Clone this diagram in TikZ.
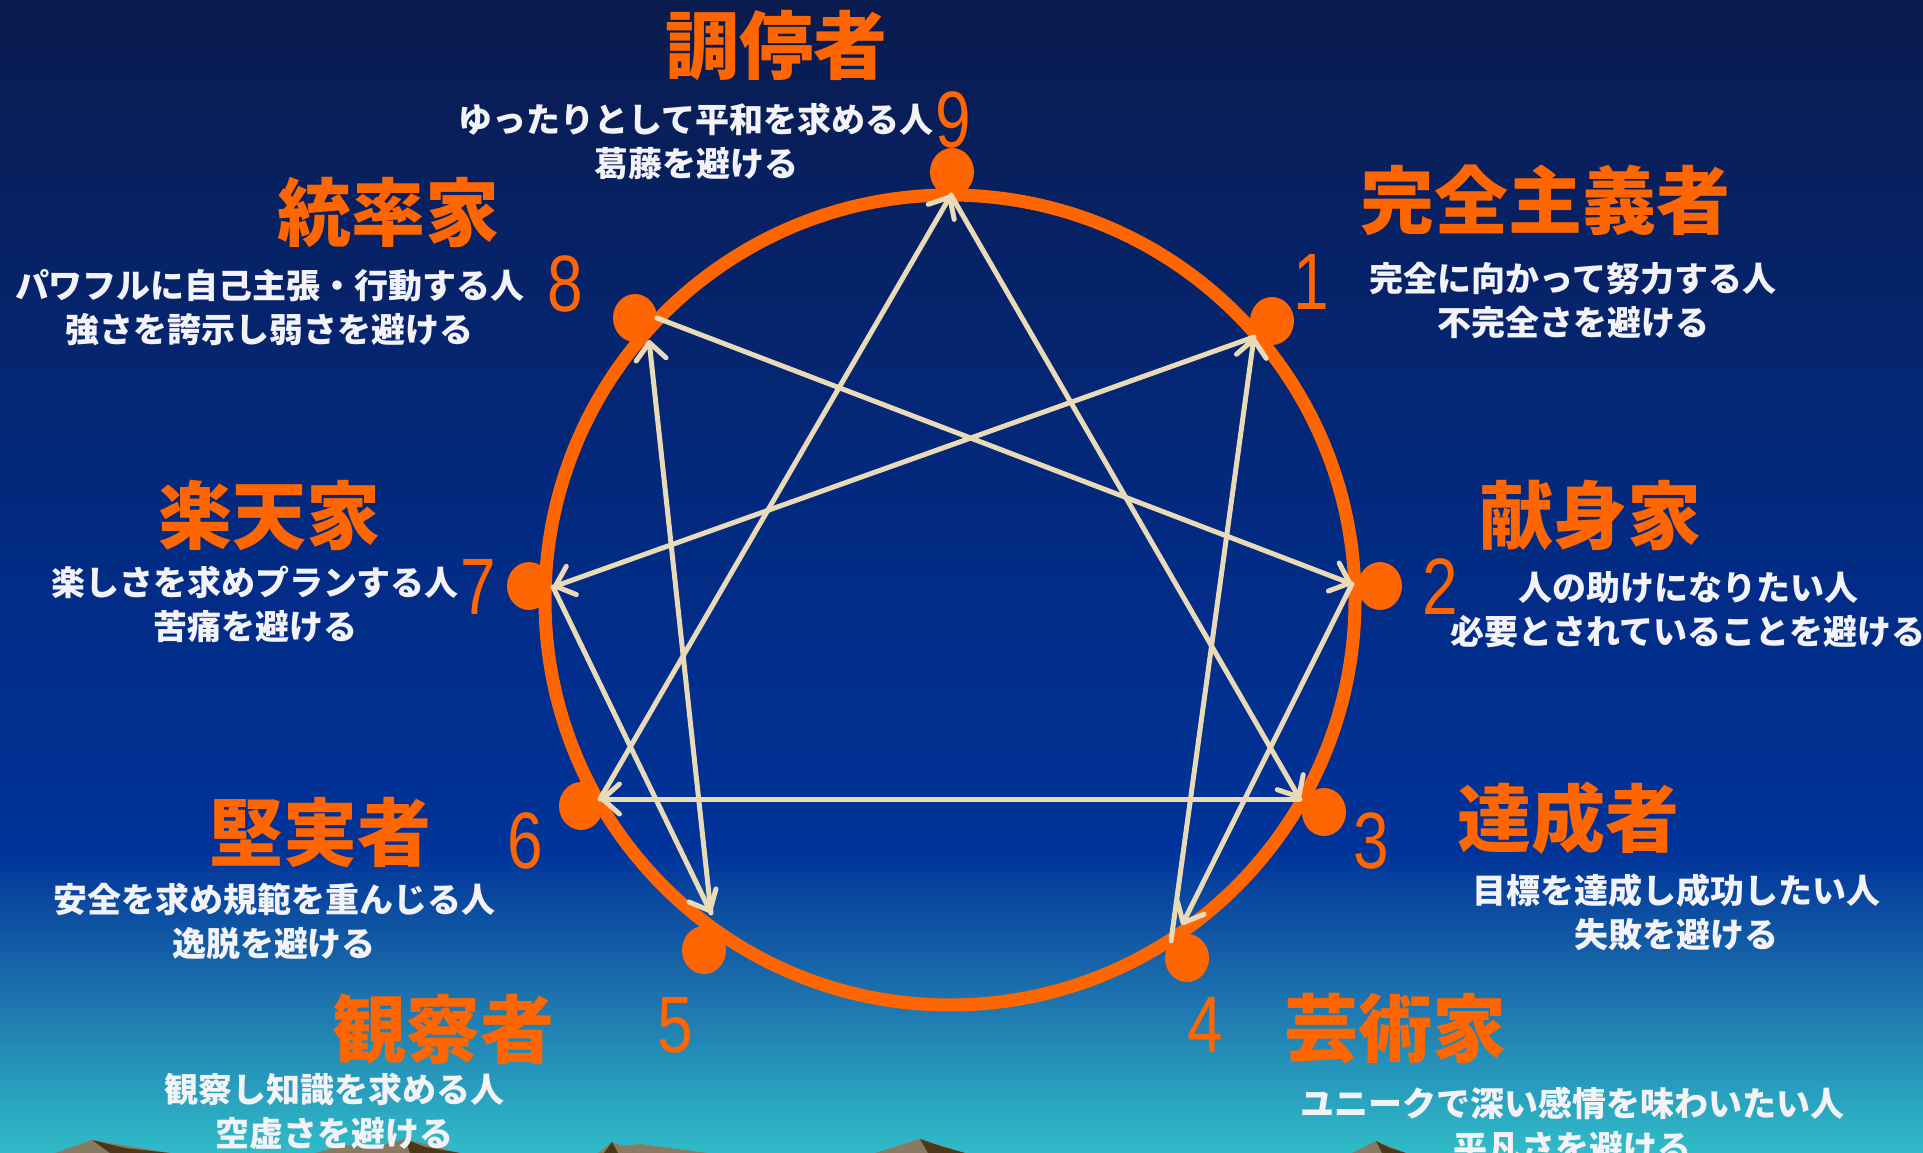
\documentclass[tikz,border=0pt]{standalone}
\usepackage{fontspec}
\setmainfont{Liberation Sans}
\newfontfamily\jp{Noto Sans CJK JP}
\newfontfamily\numf{Liberation Sans}
\usetikzlibrary{arrows.meta,shapes.geometric}
\definecolor{orng}{HTML}{FF6600}
\definecolor{cream}{HTML}{EADBB8}
\definecolor{wht}{HTML}{F2F2F7}
\definecolor{bgA}{HTML}{0A1B4E}
\definecolor{bgB}{HTML}{022B84}
\definecolor{bgC}{HTML}{003399}
\definecolor{bgD}{HTML}{1E74AE}
\definecolor{bgE}{HTML}{30BCC8}
\definecolor{mtnL}{HTML}{8A7A62}
\definecolor{mtnD}{HTML}{4A3818}
\tikzset{
  ttl/.style={font=\jp\bfseries\fontsize{74}{80}\selectfont, text=orng, inner sep=0pt},
  dsc/.style={font=\jp\bfseries\fontsize{34}{44}\selectfont, text=wht, inner sep=0pt, align=center},
  numb/.style={font=\numf\fontsize{80}{80}\selectfont, text=orng, inner sep=0pt, xscale=0.8},
  blob/.style={ellipse, fill=orng, minimum width=44pt, minimum height=48pt, inner sep=0pt},
  link/.style={draw=cream, line width=5pt, line cap=round, -{Straight Barb[length=17pt,width=30pt,round]}},
}
\begin{document}
\begin{tikzpicture}[x=1pt,y=-1pt]
\useasboundingbox (0,0) rectangle (1923,1153);
% background
\shade[top color=bgA,bottom color=bgB] (0,0) rectangle (1923,561);
\shade[top color=bgB,bottom color=bgC] (0,560) rectangle (1923,851);
\shade[top color=bgC,bottom color=bgD] (0,850) rectangle (1923,1001);
\shade[top color=bgD,bottom color=bgE] (0,1000) rectangle (1923,1153);
% mountains
\fill[mtnL] (55,1153) -- (92,1140) -- (170,1153) -- cycle;
\fill[mtnD] (92,1140) -- (125,1148) -- (170,1153) -- (110,1153) -- cycle;
\fill[mtnL] (315,1153) -- (345,1145) -- (372,1148) -- (405,1139) -- (460,1153) -- cycle;
\fill[mtnD] (405,1139) -- (425,1147) -- (460,1153) -- (410,1153) -- cycle;
\fill[mtnL] (598,1153) -- (612,1142) -- (622,1146) -- (640,1144) -- (708,1153) -- cycle;
\fill[mtnD] (612,1142) -- (618,1153) -- (604,1153) -- cycle;
\fill[mtnL] (875,1153) -- (920,1139) -- (965,1153) -- cycle;
\fill[mtnD] (920,1139) -- (940,1146) -- (965,1153) -- (928,1153) -- cycle;
\fill[mtnL] (1352,1153) -- (1376,1141) -- (1406,1153) -- cycle;
\fill[mtnD] (1376,1141) -- (1390,1148) -- (1406,1153) -- (1382,1153) -- cycle;
% circle
\node[circle, draw=orng, line width=13pt, minimum size=810pt, inner sep=0pt] (ring) at (950,600) {};
% dots
\node[blob] (d9) at (952,172) {};
\node[blob] (d1) at (1272,321) {};
\node[blob] (d2) at (1380,586) {};
\node[blob] (d3) at (1324,812) {};
\node[blob] (d4) at (1187,958) {};
\node[blob] (d5) at (704,950) {};
\node[blob] (d6) at (581,806) {};
\node[blob] (d7) at (529,586) {};
\node[blob] (d8) at (635,318) {};
% line end points
\coordinate (p9) at (951,195);
\coordinate (p1) at (1254,337);
\coordinate (p2) at (1352,584);
\coordinate (p3) at (1300,799);
\coordinate (p4) at (1171,941);
\coordinate (p4in) at (1182,925);
\coordinate (p5) at (711,913);
\coordinate (p6) at (600,799);
\coordinate (p7) at (553,587);
\coordinate (p8) at (657,318);
\coordinate (p8in) at (649,340);
% connectors
\draw[link] (p9) -- (p3);
\draw[link] (p3) -- (p6);
\draw[link] (p6) -- (p9);
\draw[link] (p1) -- (p7);
\draw[link] (p7) -- (p5);
\draw[link] (p5) -- (p8in);
\draw[link] (p8) -- (p2);
\draw[link] (p2) -- (p4in);
\draw[link] (p4) -- (p1);
% numbers
\node[numb] (n9) at (953,120) {9};
\node[numb] (n1) at (1311,282) {1};
\node[numb] (n2) at (1440,587) {2};
\node[numb] (n3) at (1371,841) {3};
\node[numb] (n4) at (1205,1025) {4};
\node[numb] (n5) at (675,1025) {5};
\node[numb] (n6) at (525,841) {6};
\node[numb] (n7) at (478,587) {7};
\node[numb] (n8) at (565,284) {8};
% titles
\node[ttl] (t9) at (776,46) {調停者};
\node[ttl] (t1) at (1545,200) {完全主義者};
\node[ttl] (t2) at (1590,515) {献身家};
\node[ttl] (t3) at (1568,818) {達成者};
\node[ttl] (t4) at (1395,1029) {芸術家};
\node[ttl] (t5) at (443,1029) {観察者};
\node[ttl] (t6) at (320,832) {堅実者};
\node[ttl] (t7) at (269,515) {楽天家};
\node[ttl] (t8) at (388,212) {統率家};
% descriptions
\node[dsc] (s9) at (696,141) {ゆったりとして平和を求める人\\葛藤を避ける};
\node[dsc] (s1) at (1573,301) {完全に向かって努力する人\\不完全さを避ける};
\node[dsc] (s2) at (1688,610) {人の助けになりたい人\\必要とされていることを避ける};
\node[dsc] (s3) at (1676,912) {目標を達成し成功したい人\\失敗を避ける};
\node[dsc] (s4) at (1572,1126) {ユニークで深い感情を味わいたい人\\平凡さを避ける};
\node[dsc] (s5) at (334,1111) {観察し知識を求める人\\空虚さを避ける};
\node[dsc] (s6) at (274,921) {安全を求め規範を重んじる人\\逸脱を避ける};
\node[dsc] (s7) at (255,604) {楽しさを求めプランする人\\苦痛を避ける};
\node[dsc] (s8) at (270,308) {パワフルに自己主張・行動する人\\強さを誇示し弱さを避ける};
\end{tikzpicture}
\end{document}
